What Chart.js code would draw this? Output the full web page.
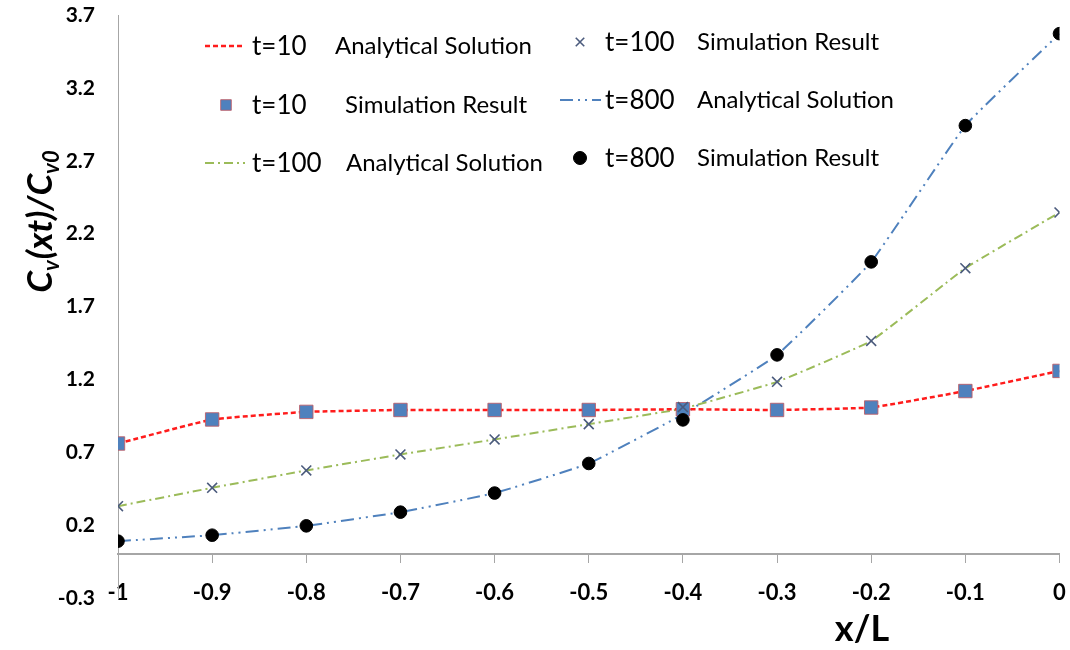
<!DOCTYPE html>
<html>
<head>
<meta charset="utf-8">
<script src="https://cdn.jsdelivr.net/npm/chart.js@4.4.1/dist/chart.umd.min.js"></script>
<style>
  html, body { margin: 0; padding: 0; background: #ffffff; }
  #wrap { position: relative; width: 1070px; height: 650px; }
</style>
</head>
<body>
<div id="wrap"><canvas id="c" width="1070" height="650"></canvas></div>
<script>
// ---- data ----
const xValues = [-1, -0.9, -0.8, -0.7, -0.6, -0.5, -0.4, -0.3, -0.2, -0.1, 0];
const xTickLabels = ['-1', '-0.9', '-0.8', '-0.7', '-0.6', '-0.5', '-0.4', '-0.3', '-0.2', '-0.1', '0'];
const yTickValues = [-0.3, 0.2, 0.7, 1.2, 1.7, 2.2, 2.7, 3.2, 3.7];
const yTickLabels = ['-0.3', '0.2', '0.7', '1.2', '1.7', '2.2', '2.7', '3.2', '3.7'];

const t10Analytical  = [0.76, 0.925, 0.977, 0.99, 0.99, 0.99, 0.995, 0.99, 1.007, 1.12, 1.258];
const t10Simulation  = [0.76, 0.925, 0.977, 0.99, 0.99, 0.99, 0.995, 0.99, 1.007, 1.12, 1.258];
const t100Analytical = [0.33, 0.456, 0.575, 0.685, 0.788, 0.893, 1.0, 1.183, 1.464, 1.963, 2.345];
const t100Simulation = [0.33, 0.456, 0.575, 0.685, 0.788, 0.893, 1.01, 1.183, 1.464, 1.963, 2.345];
const t800Analytical = [0.09, 0.131, 0.195, 0.289, 0.42, 0.623, 0.96, 1.368, 2.006, 2.941, 3.572];
const t800Simulation = [0.09, 0.131, 0.195, 0.289, 0.42, 0.623, 0.922, 1.368, 2.006, 2.941, 3.572];

const legendTimes = ['t=10', 't=10', 't=100', 't=100', 't=800', 't=800'];
const legendKinds = ['Analytical Solution', 'Simulation Result', 'Analytical Solution', 'Simulation Result', 'Analytical Solution', 'Simulation Result'];

const pts = arr => arr.map((y, i) => ({ x: xValues[i], y: y }));

const RED = '#ff1c1c', GREEN = '#9bbb59', BLUE = '#4f81bd', XCOL = '#4b5b7d';

const datasets = [
  { label: 't=10 Analytical Solution', data: pts(t10Analytical), borderColor: RED, borderWidth: 2.5,
    borderDash: [5, 3], pointRadius: 0, showLine: true, order: 10, tension: 0.1 },
  { label: 't=10 Simulation Result', data: pts(t10Simulation), showLine: false, pointStyle: 'rect',
    pointRadius: 9.5, backgroundColor: BLUE, borderColor: 'rgba(190,90,100,0.85)', borderWidth: 1, order: 3 },
  { label: 't=100 Analytical Solution', data: pts(t100Analytical), borderColor: GREEN, borderWidth: 2,
    borderDash: [9, 4, 2, 4], pointRadius: 0, showLine: true, order: 11, tension: 0.1 },
  { label: 't=100 Simulation Result', data: pts(t100Simulation), showLine: false, pointStyle: 'crossRot',
    pointRadius: 7, borderColor: XCOL, backgroundColor: XCOL, borderWidth: 1.6, order: 1 },
  { label: 't=800 Analytical Solution', data: pts(t800Analytical), borderColor: BLUE, borderWidth: 2,
    borderDash: [13, 5, 2, 5, 2, 5], pointRadius: 0, showLine: true, order: 12, tension: 0.1 },
  { label: 't=800 Simulation Result', data: pts(t800Simulation), showLine: false, pointStyle: 'circle',
    pointRadius: 6.3, backgroundColor: '#000000', borderColor: '#000000', borderWidth: 1, order: 2 }
];

// legend + axis titles plugin
const decorPlugin = {
  id: 'decor',
  afterDraw(chart) {
    const ctx = chart.ctx;
    const dsets = chart.data.datasets;
    const cols = [
      { sx0: 205, sx1: 245, mx: 226, tx: 252, kx: [335, 345, 346], rows: [46, 105, 163], idx: [0, 1, 2] },
      { sx0: 560, sx1: 601, mx: 580, tx: 605, kx: [697, 697, 697], rows: [42, 100, 158], idx: [3, 4, 5] }
    ];
    const legendMarkR = [0, 7.5, 0, 6, 0, 6.5];
    ctx.save();
    cols.forEach(col => {
      col.idx.forEach((di, r) => {
        const ds = dsets[di];
        const y = col.rows[r];
        if (ds.showLine) {
          ctx.save();
          ctx.strokeStyle = ds.borderColor;
          ctx.lineWidth = ds.borderWidth;
          ctx.setLineDash(ds.borderDash || []);
          ctx.beginPath();
          ctx.moveTo(col.sx0, y);
          ctx.lineTo(col.sx1, y);
          ctx.stroke();
          ctx.restore();
        } else {
          ctx.save();
          ctx.fillStyle = ds.backgroundColor;
          ctx.strokeStyle = ds.borderColor;
          ctx.lineWidth = ds.borderWidth;
          Chart.helpers.drawPoint(ctx, {
            pointStyle: ds.pointStyle, radius: legendMarkR[di], rotation: 0, borderWidth: ds.borderWidth
          }, col.mx, y);
          ctx.restore();
        }
        ctx.fillStyle = '#000000';
        ctx.textBaseline = 'middle';
        ctx.textAlign = 'left';
        ctx.font = '26px Lato';
        ctx.fillText(legendTimes[di], col.tx, y + 1);
        ctx.font = '24px Lato';
        ctx.fillText(legendKinds[di], col.kx[r], y);
      });
    });

    // x axis title
    ctx.fillStyle = '#000000';
    ctx.font = 'bold 36px Lato';
    ctx.textAlign = 'center';
    ctx.textBaseline = 'middle';
    ctx.fillText('x/L', 862, 629);

    // y axis title (rotated, with subscripts)
    const parts = [
      { t: 'C', sub: false }, { t: 'v', sub: true }, { t: '(xt)/C', sub: false }, { t: 'v0', sub: true }
    ];
    const mainFont = 'italic bold 35px Lato';
    const subFont = 'italic bold 22px Lato';
    let total = 0;
    parts.forEach(p => { ctx.font = p.sub ? subFont : mainFont; p.w = ctx.measureText(p.t).width; total += p.w; });
    ctx.save();
    ctx.translate(40, 222);
    ctx.rotate(-Math.PI / 2);
    ctx.textAlign = 'left';
    ctx.textBaseline = 'alphabetic';
    let cx = -total / 2;
    parts.forEach(p => {
      ctx.font = p.sub ? subFont : mainFont;
      ctx.fillText(p.t, cx, p.sub ? 19 : 12);
      cx += p.w + (p.sub ? 1 : 0);
    });
    ctx.restore();
    ctx.restore();
  }
};

new Chart(document.getElementById('c'), {
  type: 'scatter',
  data: { datasets: datasets },
  options: {
    responsive: false,
    animation: false,
    devicePixelRatio: 1,
    layout: { padding: { left: 0, top: 15, right: 10, bottom: 52 } },
    plugins: { legend: { display: false }, tooltip: { enabled: false } },
    scales: {
      x: {
        type: 'linear',
        min: -1, max: 0,
        position: { y: 0 },
        afterBuildTicks: s => { s.ticks = xValues.map(v => ({ value: v })); },
        afterFit: s => { s.paddingLeft = 0; s.paddingRight = 0; s.paddingTop = 0; s.paddingBottom = 0; },
        ticks: {
          callback: (v, i) => xTickLabels[i],
          color: '#000000',
          font: { family: 'Lato', weight: 'bold', size: 22 },
          padding: 17,
          maxRotation: 0,
          autoSkip: false
        },
        grid: { drawOnChartArea: false, drawTicks: true, tickLength: 8, color: '#a6a6a6', lineWidth: 1 },
        border: { display: true, color: '#a6a6a6', width: 2 }
      },
      y: {
        type: 'linear',
        min: -0.3, max: 3.7,
        afterBuildTicks: s => { s.ticks = yTickValues.map(v => ({ value: v })); },
        afterFit: s => { s.width = 118; s.paddingTop = 0; s.paddingBottom = 0; s.paddingLeft = 0; s.paddingRight = 0; },
        ticks: {
          callback: (v, i) => yTickLabels[i],
          color: '#000000',
          font: { family: 'Lato', weight: 'bold', size: 21 },
          padding: 23,
          autoSkip: false
        },
        grid: { drawOnChartArea: false, drawTicks: false, color: '#a6a6a6' },
        border: { display: true, color: '#a6a6a6', width: 1 }
      }
    }
  },
  plugins: [decorPlugin]
});
</script>
</body>
</html>
